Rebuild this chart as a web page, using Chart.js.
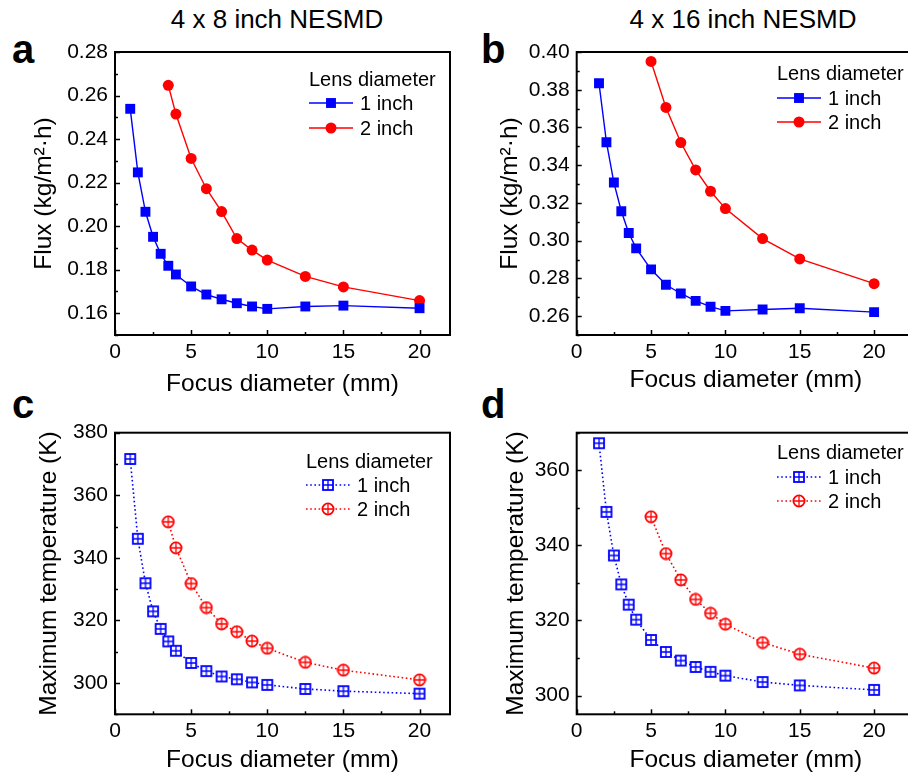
<!DOCTYPE html>
<html>
<head>
<meta charset="utf-8">
<script src="https://cdn.jsdelivr.net/npm/chart.js@4"></script>
<style>
body { margin: 0; background: #fff; width: 908px; height: 776px; overflow: hidden; position: relative; font-family: "Liberation Sans", Arial, sans-serif; }
canvas { position: absolute; }
.hd { position: absolute; font-size: 26px; line-height: 26px; white-space: nowrap; transform: translateX(-50%); }
.lt { position: absolute; font-size: 40px; line-height: 40px; font-weight: bold; }
</style>
</head>
<body>
<div class="hd" style="left:277px;top:6px">4 x 8 inch NESMD</div>
<div class="hd" style="left:743px;top:6px">4 x 16 inch NESMD</div>
<div class="lt" style="left:12px;top:29px">a</div>
<div class="lt" style="left:481px;top:29px">b</div>
<div class="lt" style="left:12px;top:384px">c</div>
<div class="lt" style="left:481px;top:384px">d</div>
<canvas id="ca" width="460" height="400" style="left:0;top:0"></canvas>
<canvas id="cb" width="470" height="400" style="left:460px;top:0"></canvas>
<canvas id="cc" width="460" height="376" style="left:0;top:400px"></canvas>
<canvas id="cd" width="470" height="376" style="left:460px;top:400px"></canvas>
<script>
// focus diameters (mm)
const x8in1 = [1, 1.5, 2, 2.5, 3, 3.5, 4, 5, 6, 7, 8, 9, 10, 12.5, 15, 20];
const x8in2 = [3.5, 4, 5, 6, 7, 8, 9, 10, 12.5, 15, 20];
const x16in1 = [1.5, 2, 2.5, 3, 3.5, 4, 5, 6, 7, 8, 9, 10, 12.5, 15, 20];
const x16in2 = [5, 6, 7, 8, 9, 10, 12.5, 15, 20];

// flux, kg/m2.h
const fluxA1 = [0.2539, 0.2247, 0.2066, 0.1951, 0.1873, 0.1818, 0.1778, 0.1723, 0.1686, 0.1664, 0.1646, 0.1631, 0.1620, 0.1631, 0.1635, 0.1623];
const fluxA2 = [0.2647, 0.2515, 0.2311, 0.2172, 0.2067, 0.1943, 0.1890, 0.1844, 0.1769, 0.1721, 0.1658];
const fluxB1 = [0.3834, 0.3522, 0.3308, 0.3156, 0.3041, 0.2959, 0.2848, 0.2766, 0.2720, 0.2681, 0.2650, 0.2628, 0.2635, 0.2642, 0.2621];
const fluxB2 = [0.3950, 0.3706, 0.3520, 0.3375, 0.3262, 0.3170, 0.3011, 0.2903, 0.2772];

// max temperature, K
const tempC1 = [371.6, 346.1, 331.9, 322.9, 317.3, 313.3, 310.3, 306.4, 303.8, 302.1, 301.2, 300.2, 299.4, 298.1, 297.4, 296.6];
const tempC2 = [351.5, 343.2, 331.8, 324.1, 318.9, 316.4, 313.4, 311.1, 306.6, 304.1, 301.0];
const tempD1 = [367.2, 348.9, 337.3, 329.6, 324.2, 320.2, 314.8, 311.6, 309.3, 307.6, 306.3, 305.3, 303.6, 302.7, 301.5];
const tempD2 = [347.6, 337.8, 330.8, 325.6, 321.9, 319.0, 314.1, 311.0, 307.3];

const xTicks = [0, 5, 10, 15, 20];
const yTicksA = [0.16, 0.18, 0.20, 0.22, 0.24, 0.26, 0.28];
const yTicksB = [0.26, 0.28, 0.30, 0.32, 0.34, 0.36, 0.38, 0.40];
const yTicksC = [300, 320, 340, 360, 380];
const yTicksD = [300, 320, 340, 360];

const legendTitle = 'Lens diameter';
const seriesNames = ['1 inch', '2 inch'];

Chart.defaults.font.family = '"Liberation Sans", Arial, sans-serif';
Chart.defaults.color = '#000';

const BLUE = '#0000ff', RED = '#ff0000';

// open marker with a cross inside (for c, d)
function crossMarker(shape, color) {
  const c = document.createElement('canvas');
  c.width = 14; c.height = 14;
  const g = c.getContext('2d');
  g.strokeStyle = color; g.fillStyle = '#fff'; g.lineWidth = 1.8;
  if (shape === 'square') {
    g.fillRect(2, 2, 10, 10); g.strokeRect(2, 2, 10, 10);
  } else {
    g.beginPath(); g.arc(7, 7, 5.6, 0, Math.PI * 2); g.fill(); g.stroke();
  }
  g.lineWidth = 1.3;
  g.beginPath();
  g.moveTo(7, 2); g.lineTo(7, 12);
  g.moveTo(2, 7); g.lineTo(12, 7);
  g.stroke();
  return c;
}

const pts = (xs, ys) => xs.map((x, i) => ({ x: x, y: ys[i] }));

function solidSet(label, xs, ys, color, style, r) {
  return { label: label, data: pts(xs, ys), borderColor: color, backgroundColor: color,
    pointBackgroundColor: color, pointBorderColor: color, pointBorderWidth: 0,
    borderWidth: 1.4, pointStyle: style, pointRadius: r, tension: 0 };
}
function dotSet(label, xs, ys, color, shape) {
  return { label: label, data: pts(xs, ys), borderColor: color, backgroundColor: color,
    pointBackgroundColor: color, pointBorderColor: color, pointBorderWidth: 0,
    borderWidth: 1.6, borderDash: [1.6, 2.6], pointStyle: crossMarker(shape, color), pointRadius: 7, tension: 0 };
}

// black box, inward ticks and the legend
const frame = {
  id: 'frame',
  afterDraw(chart, args, opts) {
    const ctx = chart.ctx, a = chart.chartArea;
    ctx.save();
    ctx.strokeStyle = '#000';
    ctx.lineWidth = 1.5;
    ['x', 'y'].forEach(k => {
      const s = chart.scales[k];
      const t = s.ticks.map(o => o.value);
      const step = (t[1] - t[0]) / 2;
      for (let n = -40; n < 80; n++) {
        const v = t[0] + n * step;
        if (v < s.min - 1e-9 || v > s.max + 1e-9) continue;
        const len = n % 2 === 0 ? 5 : 3;
        const p = Math.round(s.getPixelForValue(v)) + 0.5;
        ctx.beginPath();
        if (k === 'x') { ctx.moveTo(p, a.bottom); ctx.lineTo(p, a.bottom - len); }
        else { ctx.moveTo(a.left, p); ctx.lineTo(a.left + len, p); }
        ctx.stroke();
      }
    });
    ctx.lineWidth = 2;
    ctx.strokeRect(a.left, a.top, a.right - a.left, a.bottom - a.top);

    const L = opts;
    const x0 = a.left + L.x;
    ctx.font = '20px "Liberation Sans", Arial, sans-serif';
    ctx.fillStyle = '#000';
    ctx.textAlign = 'left';
    ctx.textBaseline = 'alphabetic';
    ctx.fillText(legendTitle, x0, a.top + L.titleY);
    chart.data.datasets.forEach((ds, i) => {
      const y = a.top + L.rowY + i * L.gap;
      ctx.save();
      ctx.strokeStyle = ds.borderColor;
      ctx.lineWidth = ds.borderWidth;
      ctx.setLineDash(ds.borderDash || []);
      ctx.beginPath(); ctx.moveTo(x0, y); ctx.lineTo(x0 + 44, y); ctx.stroke();
      ctx.setLineDash([]);
      ctx.fillStyle = ds.pointBackgroundColor;
      ctx.strokeStyle = ds.pointBorderColor;
      Chart.helpers.drawPoint(ctx, { pointStyle: ds.pointStyle, radius: ds.pointRadius, rotation: 0, borderWidth: 0 }, x0 + 22, y);
      ctx.restore();
      ctx.fillStyle = '#000';
      ctx.textBaseline = 'middle';
      ctx.fillText(ds.label, x0 + 51, y + 1);
    });
    ctx.restore();
  }
};

function makePanel(id, p) {
  new Chart(document.getElementById(id), {
    type: 'line',
    data: { datasets: p.datasets },
    options: {
      responsive: false,
      animation: false,
      layout: { padding: p.pad },
      plugins: { legend: { display: false }, tooltip: { enabled: false }, frame: p.legend },
      scales: {
        x: {
          type: 'linear', min: 0, max: p.xMax,
          afterFit: s => { s.height = p.xH; },
          afterBuildTicks: s => { s.ticks = xTicks.map(v => ({ value: v })); },
          grid: { display: false, drawTicks: false },
          border: { display: false },
          ticks: { font: { size: 21 }, padding: p.xTickPad, maxRotation: 0, autoSkip: false },
          title: { display: true, text: 'Focus diameter (mm)', font: { size: 24.5 }, padding: { top: 0, bottom: p.xTitlePad } }
        },
        y: {
          type: 'linear', min: p.yMin, max: p.yMax,
          afterFit: s => { s.width = p.yW; },
          afterBuildTicks: s => { s.ticks = p.yTicks.map(v => ({ value: v })); },
          grid: { display: false, drawTicks: false },
          border: { display: false },
          ticks: { font: { size: 21 }, padding: 7, autoSkip: false, callback: p.fmt },
          title: { display: true, text: p.yTitle, font: { size: 24.5 }, padding: { top: p.yTitlePad, bottom: 0 } }
        }
      }
    },
    plugins: [frame]
  });
}

const flux = v => v.toFixed(2);
const temp = v => String(v);

makePanel('ca', {
  datasets: [solidSet(seriesNames[0], x8in1, fluxA1, BLUE, 'rect', 7), solidSet(seriesNames[1], x8in2, fluxA2, RED, 'circle', 5.5)],
  pad: { top: 52, right: 10, left: 0, bottom: 0 }, xMax: 22, xH: 65, yW: 115,
  yMin: 0.15, yMax: 0.28, yTicks: yTicksA, fmt: flux, yTitle: 'Flux (kg/m²·h)',
  xTickPad: 5, xTitlePad: 1, yTitlePad: 30,
  legend: { x: 194, titleY: 34, rowY: 51, gap: 25 }
});
makePanel('cb', {
  datasets: [solidSet(seriesNames[0], x16in1, fluxB1, BLUE, 'rect', 7), solidSet(seriesNames[1], x16in2, fluxB2, RED, 'circle', 5.5)],
  pad: { top: 52, right: 15, left: 0, bottom: 0 }, xMax: 22.75, xH: 65, yW: 116.7,
  yMin: 0.25, yMax: 0.40, yTicks: yTicksB, fmt: flux, yTitle: 'Flux (kg/m²·h)',
  xTickPad: 5, xTitlePad: 5, yTitlePad: 35.6,
  legend: { x: 200.3, titleY: 28, rowY: 46, gap: 24 }
});
makePanel('cc', {
  datasets: [dotSet(seriesNames[0], x8in1, tempC1, BLUE, 'square'), dotSet(seriesNames[1], x8in2, tempC2, RED, 'circle')],
  pad: { top: 32.7, right: 10, left: 0, bottom: 0 }, xMax: 22, xH: 61.7, yW: 115,
  yMin: 290, yMax: 380, yTicks: yTicksC, fmt: temp, yTitle: 'Maximum temperature (K)',
  xTickPad: 4, xTitlePad: 1, yTitlePad: 35,
  legend: { x: 191, titleY: 35.3, rowY: 52.3, gap: 24 }
});
makePanel('cd', {
  datasets: [dotSet(seriesNames[0], x16in1, tempD1, BLUE, 'square'), dotSet(seriesNames[1], x16in2, tempD2, RED, 'circle')],
  pad: { top: 32.7, right: 15, left: 0, bottom: 0 }, xMax: 22.75, xH: 61.7, yW: 116.7,
  yMin: 295, yMax: 370, yTicks: yTicksD, fmt: temp, yTitle: 'Maximum temperature (K)',
  xTickPad: 4, xTitlePad: 1, yTitlePad: 41.6,
  legend: { x: 200.3, titleY: 26.3, rowY: 44.3, gap: 24 }
});
</script>
</body>
</html>
